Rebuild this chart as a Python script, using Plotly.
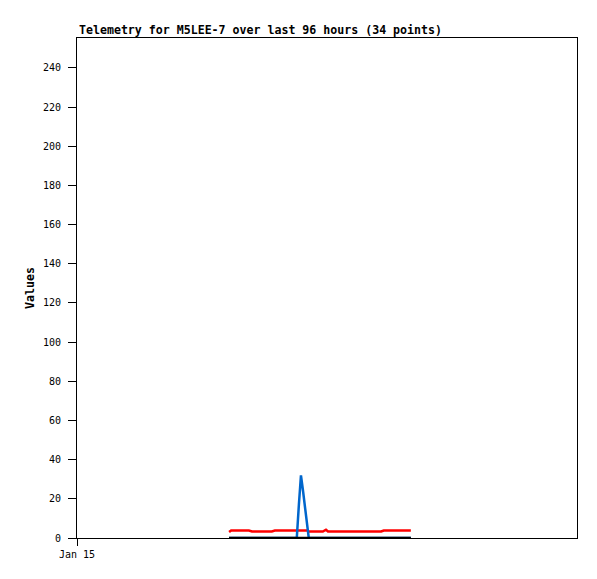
import plotly.graph_objects as go
from datetime import datetime, timedelta

# hours since Jan 15 00:00
hours = [29.2, 29.6, 30.9, 32.3, 33.0, 33.6, 34.9, 36.3, 37.4, 38.0, 39.4, 40.9,
         42.2, 42.6, 43.0, 43.4, 43.8, 44.2, 44.5, 45.9, 47.2, 47.8, 48.2, 49.7,
         51.5, 53.4, 55.3, 57.2, 58.4, 58.9, 60.5, 62.0, 63.2, 64.1]
red_vals = [3.0, 3.8, 3.8, 3.8, 3.8, 3.3, 3.3, 3.3, 3.3, 3.8, 3.8, 3.8,
            3.8, 3.8, 3.8, 3.8, 3.8, 3.8, 3.3, 3.3, 3.3, 4.2, 3.3, 3.3,
            3.3, 3.3, 3.3, 3.3, 3.3, 3.8, 3.8, 3.8, 3.8, 3.8]
blue_vals = [0, 0, 0, 0, 0, 0, 0, 0, 0, 0, 0, 0,
             0, 17, 32, 24, 15, 6, 0, 0, 0, 0, 0, 0,
             0, 0, 0, 0, 0, 0, 0, 0, 0, 0]
black_vals = [0] * 34
title_text = "Telemetry for M5LEE-7 over last 96 hours (34 points)"
y_ticks = [0, 20, 40, 60, 80, 100, 120, 140, 160, 180, 200, 220, 240]

start = datetime(2024, 1, 15)
times = [start + timedelta(hours=h) for h in hours]

font = "DejaVu Sans Mono, Liberation Mono, monospace"

fig = go.Figure()
fig.add_trace(go.Scatter(x=times, y=red_vals, mode="lines", line=dict(color="#ff0000", width=2.5)))
fig.add_trace(go.Scatter(x=times, y=blue_vals, mode="lines", line=dict(color="#0066cc", width=2.5)))
fig.add_trace(go.Scatter(x=times, y=black_vals, mode="lines", line=dict(color="#000000", width=2.5)))

# page body has an 8px margin; size the figure so the plot area lands where the reference has it
fig.update_layout(
    width=589, height=571,
    margin=dict(l=69, r=20, t=30, b=41),
    paper_bgcolor="white", plot_bgcolor="white",
    showlegend=False,
    font=dict(family=font, size=10, color="black"),
    annotations=[dict(text="<b>" + title_text + "</b>", xref="paper", yref="paper",
                      x=0, y=1, xanchor="left", yanchor="bottom", yshift=-1,
                      showarrow=False, font=dict(family=font, size=11.6, color="black"))],
)
fig.update_xaxes(
    range=[start, start + timedelta(hours=96)],
    tickvals=[start], ticktext=["Jan 15"],
    ticks="outside", ticklen=7, tickcolor="black", tickwidth=1,
    showline=True, linecolor="black", linewidth=1, mirror=True,
    showgrid=False, zeroline=False,
    tickfont=dict(family=font, size=10),
)
fig.update_yaxes(
    range=[0, 255.3],
    tickvals=y_ticks,
    ticks="outside", ticklen=8, tickcolor="black", tickwidth=1,
    ticklabelstandoff=5,
    showline=True, linecolor="black", linewidth=1, mirror=True,
    showgrid=False, zeroline=False,
    title=dict(text="<b>Values</b>", font=dict(family=font, size=11.6), standoff=5),
    tickfont=dict(family=font, size=10),
)

fig.write_html("out.html")
